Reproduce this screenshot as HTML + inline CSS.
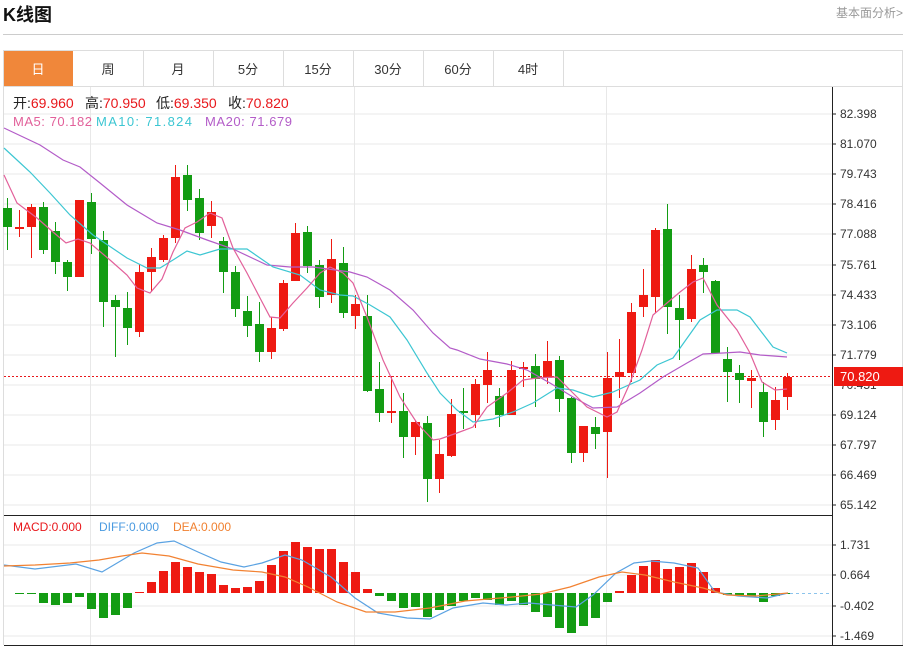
<!DOCTYPE html>
<html><head><meta charset="utf-8"><style>
html,body{margin:0;padding:0;background:#fff;width:907px;height:647px;overflow:hidden;font-family:"Liberation Sans","Noto Sans CJK SC",sans-serif}
</style></head><body>
<svg width="907" height="647" xmlns="http://www.w3.org/2000/svg" font-family="Liberation Sans, Noto Sans CJK SC, sans-serif">
<text x="3" y="21" font-size="18" font-weight="bold" fill="#111">K线图</text>
<text x="903" y="17" font-size="12" fill="#999" text-anchor="end">基本面分析&gt;</text>
<line x1="3" y1="34.5" x2="903" y2="34.5" stroke="#ccc"/>
<rect x="3.5" y="50.5" width="899" height="36" fill="#fff" stroke="#ddd"/>
<rect x="4" y="51" width="69" height="35" fill="#f0873a"/>
<g stroke="#ddd"><line x1="143.5" y1="51" x2="143.5" y2="86"/><line x1="213.5" y1="51" x2="213.5" y2="86"/><line x1="283.5" y1="51" x2="283.5" y2="86"/><line x1="353.5" y1="51" x2="353.5" y2="86"/><line x1="423.5" y1="51" x2="423.5" y2="86"/><line x1="493.5" y1="51" x2="493.5" y2="86"/><line x1="563.5" y1="51" x2="563.5" y2="86"/></g>
<g font-size="13" text-anchor="middle" fill="#333"><text x="38" y="74" fill="#fff">日</text><text x="108" y="74">周</text><text x="178" y="74">月</text><text x="248" y="74">5分</text><text x="318" y="74">15分</text><text x="388" y="74">30分</text><text x="458" y="74">60分</text><text x="528" y="74">4时</text></g>
<line x1="3.5" y1="87" x2="3.5" y2="645" stroke="#ddd"/>
<line x1="902.5" y1="87" x2="902.5" y2="645" stroke="#ddd"/>
<g stroke="#e8e8e8"><line x1="4" y1="114" x2="832" y2="114"/><line x1="4" y1="144" x2="832" y2="144"/><line x1="4" y1="174" x2="832" y2="174"/><line x1="4" y1="204" x2="832" y2="204"/><line x1="4" y1="234" x2="832" y2="234"/><line x1="4" y1="265" x2="832" y2="265"/><line x1="4" y1="295" x2="832" y2="295"/><line x1="4" y1="325" x2="832" y2="325"/><line x1="4" y1="355" x2="832" y2="355"/><line x1="4" y1="385" x2="832" y2="385"/><line x1="4" y1="415" x2="832" y2="415"/><line x1="4" y1="445" x2="832" y2="445"/><line x1="4" y1="475" x2="832" y2="475"/><line x1="4" y1="505" x2="832" y2="505"/>
<line x1="4" y1="545" x2="832" y2="545"/><line x1="4" y1="575" x2="832" y2="575"/><line x1="4" y1="606" x2="832" y2="606"/><line x1="4" y1="636" x2="832" y2="636"/>
<line x1="90.5" y1="87" x2="90.5" y2="645"/><line x1="354.5" y1="87" x2="354.5" y2="645"/><line x1="606.5" y1="87" x2="606.5" y2="645"/></g>
<line x1="4" y1="515.5" x2="832" y2="515.5" stroke="#222"/>
<line x1="4" y1="645.5" x2="903" y2="645.5" stroke="#222"/>
<line x1="832.5" y1="87" x2="832.5" y2="646" stroke="#222"/>
<g fill="#333" font-size="12">
<text x="840" y="118">82.398</text><text x="840" y="148">81.070</text><text x="840" y="178">79.743</text><text x="840" y="208">78.416</text><text x="840" y="238">77.088</text><text x="840" y="269">75.761</text><text x="840" y="299">74.433</text><text x="840" y="329">73.106</text><text x="840" y="359">71.779</text><text x="840" y="389">70.451</text><text x="840" y="419">69.124</text><text x="840" y="449">67.797</text><text x="840" y="479">66.469</text><text x="840" y="509">65.142</text>
<text x="840" y="549">1.731</text><text x="840" y="579">0.664</text><text x="840" y="610">-0.402</text><text x="840" y="640">-1.469</text></g>
<g stroke="#222"><line x1="832" y1="114" x2="836" y2="114"/><line x1="832" y1="144" x2="836" y2="144"/><line x1="832" y1="174" x2="836" y2="174"/><line x1="832" y1="204" x2="836" y2="204"/><line x1="832" y1="234" x2="836" y2="234"/><line x1="832" y1="265" x2="836" y2="265"/><line x1="832" y1="295" x2="836" y2="295"/><line x1="832" y1="325" x2="836" y2="325"/><line x1="832" y1="355" x2="836" y2="355"/><line x1="832" y1="415" x2="836" y2="415"/><line x1="832" y1="445" x2="836" y2="445"/><line x1="832" y1="475" x2="836" y2="475"/><line x1="832" y1="505" x2="836" y2="505"/><line x1="832" y1="545" x2="836" y2="545"/><line x1="832" y1="575" x2="836" y2="575"/><line x1="832" y1="606" x2="836" y2="606"/><line x1="832" y1="636" x2="836" y2="636"/></g>
<line x1="4" y1="376.5" x2="832" y2="376.5" stroke="#e8171b" stroke-dasharray="2,2"/>
<rect x="834" y="367" width="69" height="19" fill="#ee1a12"/>
<text x="840" y="381" font-size="13" fill="#fff">70.820</text>
<g id="candles"></g>
<g id="macd"></g>
<polyline fill="none" stroke="#b35cc8" stroke-width="1.2" points="4,128 40,145 63,160 80,167 100,183 127,205 157,223 180,230 207,240 233,249 267,265 290,267 313,267 350,272 367,277 390,290 413,310 433,333 450,348 457,350 480,359 507,364 527,370 550,383 573,397 593,408 617,407 640,393 663,377 687,363 703,354 723,353 740,352 760,355 787,357"/>
<polyline fill="none" stroke="#3cc6d2" stroke-width="1.2" points="4,148 17,160 30,172 50,193 70,215 93,235 127,258 147,268 160,268 173,260 187,251 200,255 220,249 247,249 273,267 300,275 320,290 340,295 353,296 370,305 390,317 407,340 427,373 440,393 457,410 473,422 493,419 513,412 533,403 557,388 573,390 593,397 613,392 640,380 657,365 673,358 700,320 717,310 737,310 750,317 773,347 787,353"/>
<polyline fill="none" stroke="#e2609a" stroke-width="1.2" points="4,175 17,203 37,218 53,232 66,243 78,239 90,243 110,260 127,275 137,288 150,293 162,279 173,252 185,228 197,222 210,213 222,218 233,248 247,273 260,298 270,317 280,318 293,303 307,288 320,273 330,267 343,273 353,283 367,317 383,360 400,397 417,423 433,440 440,439 457,433 473,427 487,407 507,393 523,380 537,378 557,377 573,393 587,407 607,417 617,412 630,383 642,350 653,315 667,303 680,292 693,282 703,278 717,305 737,330 750,353 762,382 775,390 787,389"/>
<line x1="790" y1="593.5" x2="832" y2="593.5" stroke="#8cc4ec" stroke-dasharray="3,3"/>
<polyline fill="none" stroke="#5aa2e2" stroke-width="1.2" points="4,565 35,569 76,564 102,572 134,553 157,543 174,541 198,552 221,562 244,567 262,563 285,555 302,560 331,577 355,598 378,613 407,618 430,619 453,608 483,603 506,605 529,603 552,605 576,607 593,595 616,573 634,563 651,561 674,563 698,568 715,592 738,596 767,598 788,593"/>
<polyline fill="none" stroke="#f28232" stroke-width="1.2" points="4,566 35,565 70,563 99,560 122,556 142,553 169,556 198,564 233,570 262,572 285,577 308,587 337,602 366,612 395,612 430,608 465,601 512,597 541,594 570,587 599,577 622,572 645,575 674,582 703,588 727,595 756,596 788,593"/>
<g font-size="14">
<text x="13" y="108" fill="#222">开:<tspan fill="#e8171b">69.960</tspan></text>
<text x="85" y="108" fill="#222">高:<tspan fill="#e8171b">70.950</tspan></text>
<text x="156" y="108" fill="#222">低:<tspan fill="#e8171b">69.350</tspan></text>
<text x="228" y="108" fill="#222">收:<tspan fill="#e8171b">70.820</tspan></text></g>
<g font-size="13">
<text x="13" y="126" fill="#e2609a" textLength="79">MA5: 70.182</text>
<text x="96" y="126" fill="#3cc6d2" textLength="96">MA10: 71.824</text>
<text x="205" y="126" fill="#b35cc8" textLength="87">MA20: 71.679</text></g>
<g font-size="12"><text x="13" y="531" fill="#e8171b">MACD:0.000</text><text x="99" y="531" fill="#4a9ae0">DIFF:0.000</text><text x="173" y="531" fill="#f08030">DEA:0.000</text></g>
</svg>
<script>
var C=[["G",198,208,227,250],["R",210,227,228,237],["R",204,207,227,258],["G",202,207,250,254],["G",222,231,262,274],["G",260,262,277,291],["R",200,200,277,277],["G",193,202,239,254],["G",231,240,302,327],["G",295,300,307,357],["G",292,308,328,345],["R",264,272,332,337],["R",248,257,272,292],["R",235,238,260,262],["R",165,177,238,243],["G",165,175,200,211],["G",189,198,233,240],["R",201,212,226,238],["G",237,241,272,293],["G",266,272,309,317],["G",296,311,326,337],["G",302,324,352,362],["R",317,328,352,359],["R",280,283,329,331],["R",223,233,281,281],["G",226,232,266,273],["G",260,265,297,308],["R",239,259,295,303],["G",247,263,313,318],["R",295,304,316,329],["G",295,316,391,392],["G",362,389,413,422],["R",376,411,413,423],["G",393,411,437,458],["R",420,422,437,455],["G",416,423,479,502],["R",440,454,479,493],["R",399,414,456,457],["G",388,411,413,429],["R",379,384,415,428],["R",352,370,385,403],["G",388,396,415,427],["R",361,370,415,415],["R",362,367,369,387],["G",354,366,379,407],["R",341,361,378,384],["G",356,360,399,412],["G",397,398,453,463],["R",426,426,453,462],["G",417,427,434,449],["R",352,378,432,478],["R",339,372,377,398],["R",303,312,373,382],["R",269,295,307,317],["R",228,230,297,313],["G",204,229,307,334],["G",295,308,320,360],["R",255,269,319,322],["G",258,265,272,293],["G",280,281,353,353],["G",347,359,372,402],["G",365,373,380,403],["R",370,378,381,408],["G",382,392,422,437],["R",387,400,420,430],["R",373,377,397,410]];
var M=[0,1,1,10,12,10,4,16,25,22,15,-1,-11,-22,-31,-26,-21,-19,-8,-5,-6,-12,-28,-42,-51,-46,-44,-44,-31,-21,-4,3,8,15,14,24,17,13,8,5,7,12,8,12,19,24,35,40,33,25,9,-2,-18,-27,-33,-24,-26,-30,-21,-5,2,3,4,9,3,1];
var s="",m="",z=593;
for(var i=0;i<C.length;i++){var c=C[i],x=7+12*i,col=c[0]=="R"?"#ee1a12":"#139c13";
s+='<line x1="'+(x+.5)+'" y1="'+c[1]+'" x2="'+(x+.5)+'" y2="'+c[4]+'" stroke="'+col+'"/>';
var h=Math.max(c[3]-c[2],2);s+='<rect x="'+(x-4)+'" y="'+c[2]+'" width="9" height="'+h+'" fill="'+col+'"/>';
var v=M[i];if(v!=0){var mc=v<0?"#ee1a12":"#139c13";m+='<rect x="'+(x-4)+'" y="'+(v<0?z+v:z)+'" width="9" height="'+Math.abs(v)+'" fill="'+mc+'"/>';}}
var ns="http://www.w3.org/2000/svg";
function put(id,h){var g=document.getElementById(id);var t=new DOMParser().parseFromString('<svg xmlns="'+ns+'">'+h+'</svg>','image/svg+xml');var k=t.documentElement.childNodes;while(k.length){g.appendChild(document.importNode(k[0],true));k[0].parentNode.removeChild(k[0]);}}
put("candles",s);put("macd",m);
</script>
</body></html>
